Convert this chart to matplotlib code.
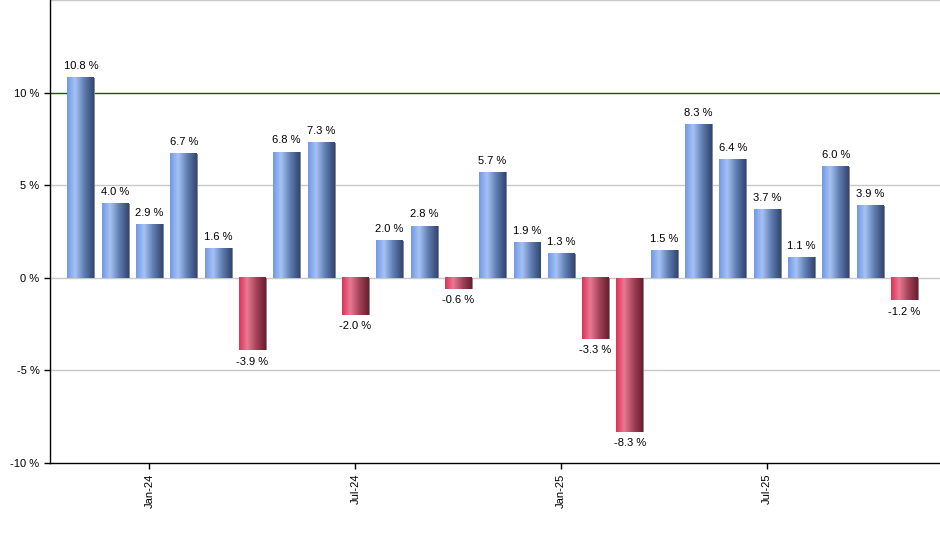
import numpy as np
import matplotlib.pyplot as plt
from matplotlib.colors import LinearSegmentedColormap

plt.rcParams['font.family'] = ['Liberation Sans', 'DejaVu Sans']

months = ["Nov-23", "Dec-23", "Jan-24", "Feb-24", "Mar-24", "Apr-24", "May-24",
          "Jun-24", "Jul-24", "Aug-24", "Sep-24", "Oct-24", "Nov-24", "Dec-24",
          "Jan-25", "Feb-25", "Mar-25", "Apr-25", "May-25", "Jun-25", "Jul-25",
          "Aug-25", "Sep-25", "Oct-25", "Nov-25"]
returns = [10.8, 4.0, 2.9, 6.7, 1.6, -3.9, 6.8, 7.3, -2.0, 2.0, 2.8, -0.6, 5.7,
           1.9, 1.3, -3.3, -8.3, 1.5, 8.3, 6.4, 3.7, 1.1, 6.0, 3.9, -1.2]
tick_months = ["Jan-24", "Jul-24", "Jan-25", "Jul-25"]

blue_cmap = LinearSegmentedColormap.from_list(
    "b", [(0, "#7199e6"), (0.3, "#a7c3f5"), (0.65, "#5f7cb0"), (1, "#324670")])
red_cmap = LinearSegmentedColormap.from_list(
    "r", [(0, "#e03058"), (0.3, "#e87a92"), (0.65, "#a2435a"), (1, "#6a1e2e")])
grad = np.linspace(0, 1, 64).reshape(1, -1)

fig = plt.figure(figsize=(9.4, 5.5), dpi=100)
ax = fig.add_axes([50 / 940, 1 - 463 / 550, 890 / 940, 463 / 550])

x = np.arange(len(returns))
width = 0.78

for yv in [-5, 0, 5, 15]:
    ax.axhline(yv, color="#c8c8c8", lw=1, zorder=0)
ax.axhline(10, color="#0f5a0f", lw=1, zorder=0)

bars = ax.bar(x, returns, width=width, color="none", zorder=2)
for b, v in zip(bars, returns):
    x0, w = b.get_x(), b.get_width()
    y0, y1 = min(0, v), max(0, v)
    # thin grey shadow on the right edge
    ax.add_patch(plt.Rectangle((x0 + 0.035, y0), w, y1 - y0, color="#8a8a8a",
                               zorder=1.5, lw=0))
    ax.imshow(grad, cmap=blue_cmap if v >= 0 else red_cmap, aspect="auto",
              extent=(x0, x0 + w, y0, y1), zorder=2, interpolation="bilinear")
    if v >= 0:
        ax.text(x0 + w / 2, v + 0.35, f"{v:.1f} %", ha="center",
                va="bottom", fontsize=8, zorder=3)
    else:
        ax.text(x0 + w / 2, v - 0.35, f"{v:.1f} %", ha="center",
                va="top", fontsize=8, zorder=3)

ax.set_xlim(-0.9, len(returns) + 0.04)
ax.set_ylim(-10, 15)
ax.set_yticks([-10, -5, 0, 5, 10])
ax.set_yticklabels([f"{t} %" for t in [-10, -5, 0, 5, 10]])
ax.set_xticks([months.index(m) for m in tick_months])
ax.set_xticklabels(tick_months, rotation=90)
ax.tick_params(axis="both", labelsize=8, length=4, width=1, color="black")

for s in ["top", "right"]:
    ax.spines[s].set_visible(False)
for s in ["left", "bottom"]:
    ax.spines[s].set_linewidth(1)
    ax.spines[s].set_color("black")

fig.savefig("out.png", dpi=100)
